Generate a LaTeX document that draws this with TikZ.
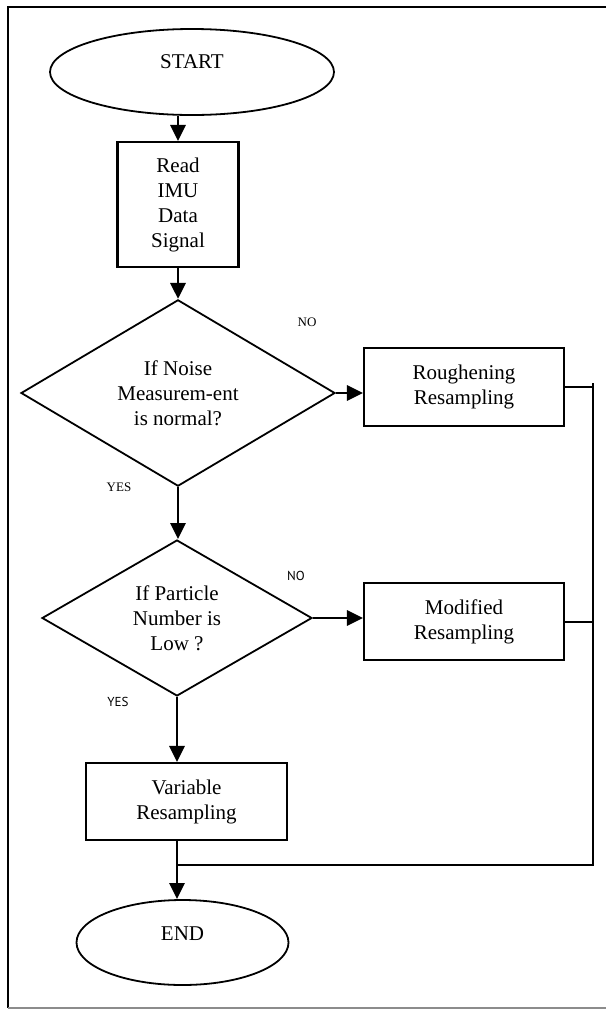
\documentclass[tikz,border=0pt]{standalone}
\usepackage{fontspec}
\setmainfont{Liberation Serif}
\newfontfamily\labsans{PT Sans}
\usetikzlibrary{shapes.geometric,arrows.meta}
\tikzset{
  bigtext/.style={font=\fontsize{21}{25}\selectfont},
  box/.style={draw, line width=2.1pt, inner sep=0pt, align=center, bigtext},
  dec/.style={draw, diamond, line width=1.8pt, inner sep=0pt, align=center, bigtext},
  term/.style={draw, ellipse, line width=1.8pt, inner sep=0pt},
  txt/.style={inner sep=0pt, align=center, bigtext},
  small/.style={inner sep=0pt, font=\fontsize{13}{15}\selectfont},
  smallsans/.style={inner sep=0pt, font=\labsans\fontsize{13}{15}\selectfont},
  flow/.style={line width=2.9pt, -{Triangle[length=16pt,width=15pt]}},
  link/.style={line width=2pt},
  frame/.style={line width=1.7pt}
}
\begin{document}
\begin{tikzpicture}[x=1pt,y=-1pt]
\useasboundingbox (0,0) rectangle (606,1010);
% frame
\draw[frame] (606,7) -- (8,7) -- (8,1008);
\draw[frame, black!45] (8,1008) -- (606,1008);
% nodes
\node[term, minimum width=284pt, minimum height=86pt] (start) at (192,72) {};
\node[txt] (starttxt) at (192,62) {START};
\node[box, minimum width=121pt, minimum height=125pt] (read) at (178,204.5) {Read\\IMU\\Data\\Signal};
\node[dec, minimum width=314pt, minimum height=184pt] (d1) at (178,393) {If Noise\\Measurem-ent\\is normal?};
\node[box, minimum width=200pt, minimum height=78pt] (rough) at (464,387) {Roughening\\Resampling};
\node[dec, minimum width=270pt, minimum height=156pt] (d2) at (177,618) {If Particle\\Number is\\Low ?};
\node[box, minimum width=200pt, minimum height=77pt] (mod) at (464,621.5) {Modified\\Resampling};
\node[box, minimum width=201pt, minimum height=77pt] (var) at (186.5,801.5) {Variable\\Resampling};
\node[term, minimum width=212pt, minimum height=85pt] (end) at (182.5,942.5) {};
\node[txt] (endtxt) at (182.5,934) {END};
% labels
\node[small] (no1) at (307,322) {NO};
\node[small] (yes1) at (119,487) {YES};
\node[smallsans] (no2) at (296,576) {NO};
\node[smallsans] (yes2) at (118,702) {YES};
% connectors
\draw[flow] (start.south -| read.north) -- (read.north);
\draw[flow] (read.south) -- (d1.north);
\draw[flow] (d1.east) -- (d1.east -| rough.west);
\draw[flow] (d1.south) -- (d1.south |- d2.north);
\draw[flow] (d2.east) -- (d2.east -| mod.west);
\draw[flow] (d2.south) -- (d2.south |- var.north);
\draw[flow] (d2.south |- var.south) -- (d2.south |- end.north);
\coordinate (rt) at (593,383);
\coordinate (rb) at (593,865);
\coordinate (jn) at (177,865);
\draw[link] (rough.east) -- (rough.east -| rt);
\draw[link] (mod.east) -- (mod.east -| rt);
\draw[link] (rt) -- (rb) -- (jn);
\end{tikzpicture}
\end{document}
